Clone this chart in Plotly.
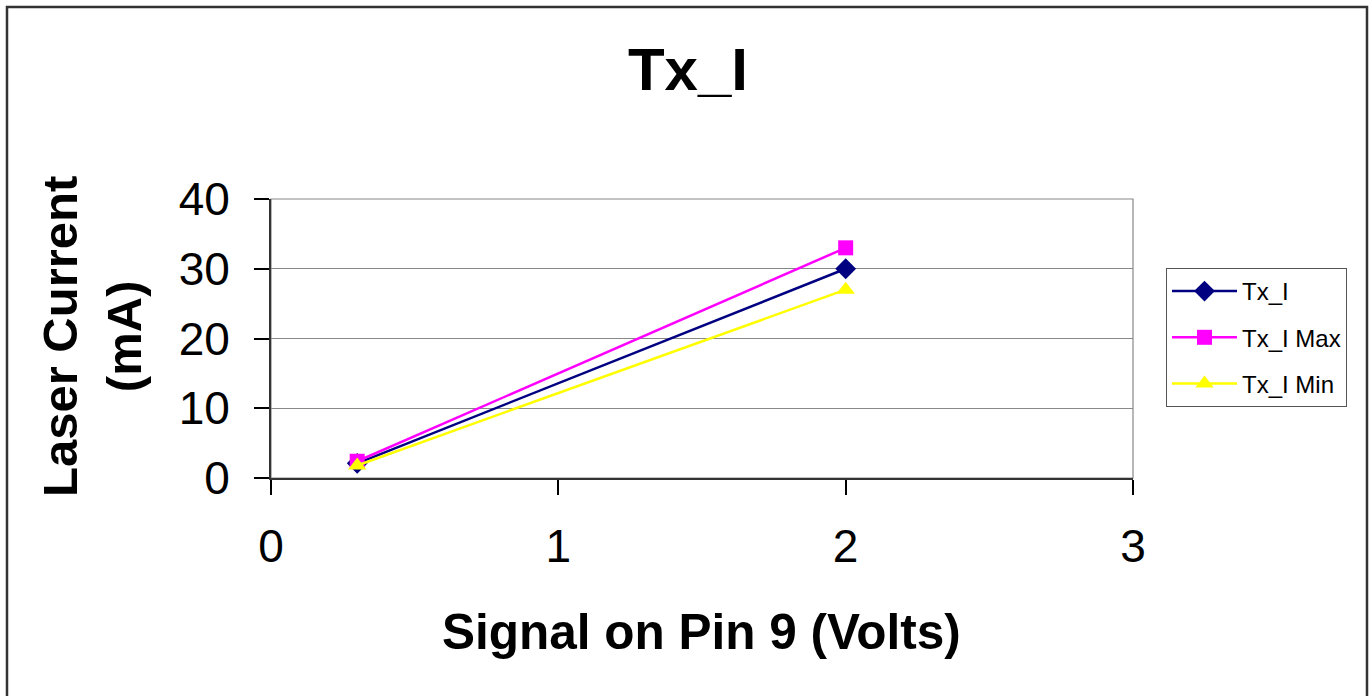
import plotly.graph_objects as go

x_vals = [0.3, 2.0]
tx_i = [2.1, 30.0]
tx_i_max = [2.4, 33.0]
tx_i_min = [1.8, 27.0]
series_names = ["Tx_I", "Tx_I Max", "Tx_I Min"]
x_ticks = [0, 1, 2, 3]
y_ticks = [0, 10, 20, 30, 40]

FONT = "Liberation Sans, Arial, sans-serif"

fig = go.Figure()
styles = [
    (tx_i, "#000080", "diamond", 16),
    (tx_i_max, "#FF00FF", "square", 15),
    (tx_i_min, "#FFFF00", "triangle-up", 16),
]
for i, (vals, color, sym, sz) in enumerate(styles):
    fig.add_trace(go.Scatter(
        x=x_vals, y=vals, name=series_names[i], mode="lines+markers",
        line=dict(color=color, width=2.5),
        marker=dict(symbol=sym, size=sz, color=color),
        legendgroup=f"g{i}",
    ))

L, R, T, B = 271, 1133, 199, 478
W, H = 1370, 696
pw, ph = R - L, B - T

def px(xp):
    return (xp - L) / pw

def py(yp):
    return (B - yp) / ph

fig.update_layout(
    width=W, height=H,
    margin=dict(l=L, r=W - R, t=T, b=H - B),
    paper_bgcolor="white", plot_bgcolor="white",
    font=dict(family=FONT, color="black"),
    showlegend=True,
    title=dict(text="<b>Tx_I</b>", font=dict(size=60, family=FONT),
               x=688 / W, xanchor="center", y=1 - 69 / H, yanchor="middle",
               xref="container", yref="container"),
    legend=dict(x=px(1166), y=py(268), xanchor="left", yanchor="top",
                bordercolor="#555555", borderwidth=1, bgcolor="white",
                font=dict(size=24, family=FONT), traceorder="grouped",
                tracegroupgap=12, itemwidth=65, entrywidth=186),
    xaxis=dict(range=[0, 3], tickvals=x_ticks, showgrid=False, zeroline=False,
               showline=True, linecolor="#333333", linewidth=2,
               ticks="outside", ticklen=15, tickcolor="black", tickwidth=1.5,
               tickfont=dict(size=46, family=FONT), ticklabelstandoff=12),
    yaxis=dict(range=[0, 40], tickvals=y_ticks, showgrid=True,
               gridcolor="#888888", gridwidth=1.2, zeroline=False,
               showline=True, linecolor="#333333", linewidth=2,
               ticks="outside", ticklen=15, tickcolor="black", tickwidth=1.5,
               tickfont=dict(size=46, family=FONT), ticklabelstandoff=15),
    annotations=[
        dict(text="<b>Signal on Pin 9 (Volts)</b>", xref="paper", yref="paper",
             x=px(701), y=py(631), xanchor="center", yanchor="middle",
             showarrow=False, font=dict(size=49.5, family=FONT)),
        dict(text="<b>Laser Current<br>(mA)</b>", xref="paper", yref="paper",
             x=px(92), y=py(337), xanchor="center", yanchor="middle",
             textangle=-90, showarrow=False, font=dict(size=49, family=FONT)),
    ],
    shapes=[
        dict(type="rect", xref="paper", yref="paper", x0=0, x1=1, y0=0, y1=1,
             line=dict(color="#888888", width=1.2), layer="below"),
        dict(type="rect", xref="paper", yref="paper",
             x0=px(7), x1=px(1367), y0=py(7), y1=py(705),
             line=dict(color="#333333", width=2.5)),
    ],
)

fig.write_html(
    "out.html",
    config={"displayModeBar": False},
    post_script="document.body.style.margin='0';document.body.style.padding='0';",
)
